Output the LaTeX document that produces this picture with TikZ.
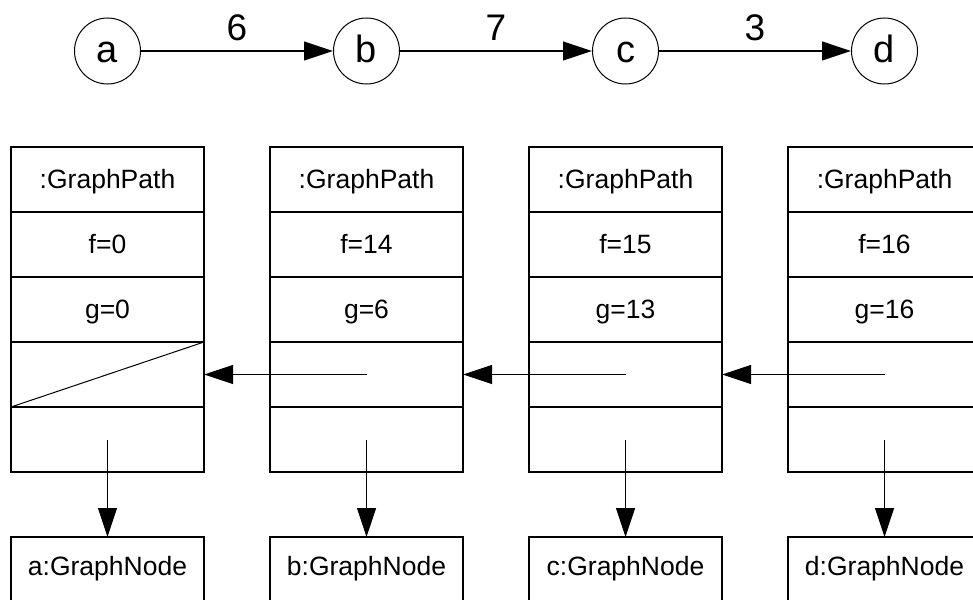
\documentclass[tikz,border=0pt]{standalone}
\usepackage{fontspec}
\setmainfont{Liberation Sans}
\usetikzlibrary{arrows.meta}
\tikzset{
  vert/.style={circle, draw, line width=1pt, minimum size=66pt, inner sep=0pt, text height=24pt, text depth=0pt, font=\fontsize{38}{44}\selectfont},
  elabel/.style={font=\fontsize{37}{44}\selectfont, inner sep=0pt, anchor=south},
  row/.style={rectangle, draw, line width=1.2pt, minimum width=193pt, minimum height=65pt, inner sep=0pt, outer sep=0pt, text height=18.6pt, text depth=0pt, font=\fontsize{26.5}{30}\selectfont},
  gnode/.style={row, text height=11pt},
  arr/.style={line width=1.2pt, -{Triangle[length=29pt,width=19pt]}},
  plain/.style={line width=1pt}
}
\begin{document}
\begin{tikzpicture}[x=1pt,y=-1pt]
\path[use as bounding box, clip] (0,0) rectangle (973,599);
\foreach \n/\x/\f/\g in {a/107.5/0/0, b/366.5/14/6, c/625.5/15/13, d/884.5/16/16} {
  \node[vert] (v\n) at (\x,51) {\n};
  \node[row] (\n1) at (\x,179.5) {:GraphPath};
  \node[row] (\n2) at (\x,244.5) {f=\f};
  \node[row] (\n3) at (\x,309.5) {g=\g};
  \node[row] (\n4) at (\x,374.5) {};
  \node[row] (\n5) at (\x,439.5) {};
  \node[gnode] (n\n) at (\x,569.5) {\n:GraphNode};
  \draw[arr] (\n5.center) -- (n\n.north);
}
\draw[arr] (va) -- node[elabel, midway, above=9.5pt] (l6) {6} (vb);
\draw[arr] (vb) -- node[elabel, midway, above=9.5pt] (l7) {7} (vc);
\draw[arr] (vc) -- node[elabel, midway, above=9.5pt] (l3) {3} (vd);
\draw[plain] (a4.north east) -- (a4.south west);
\draw[arr] (b4.center) -- (a4.east);
\draw[arr] (c4.center) -- (b4.east);
\draw[arr] (d4.center) -- (c4.east);
\end{tikzpicture}
\end{document}
